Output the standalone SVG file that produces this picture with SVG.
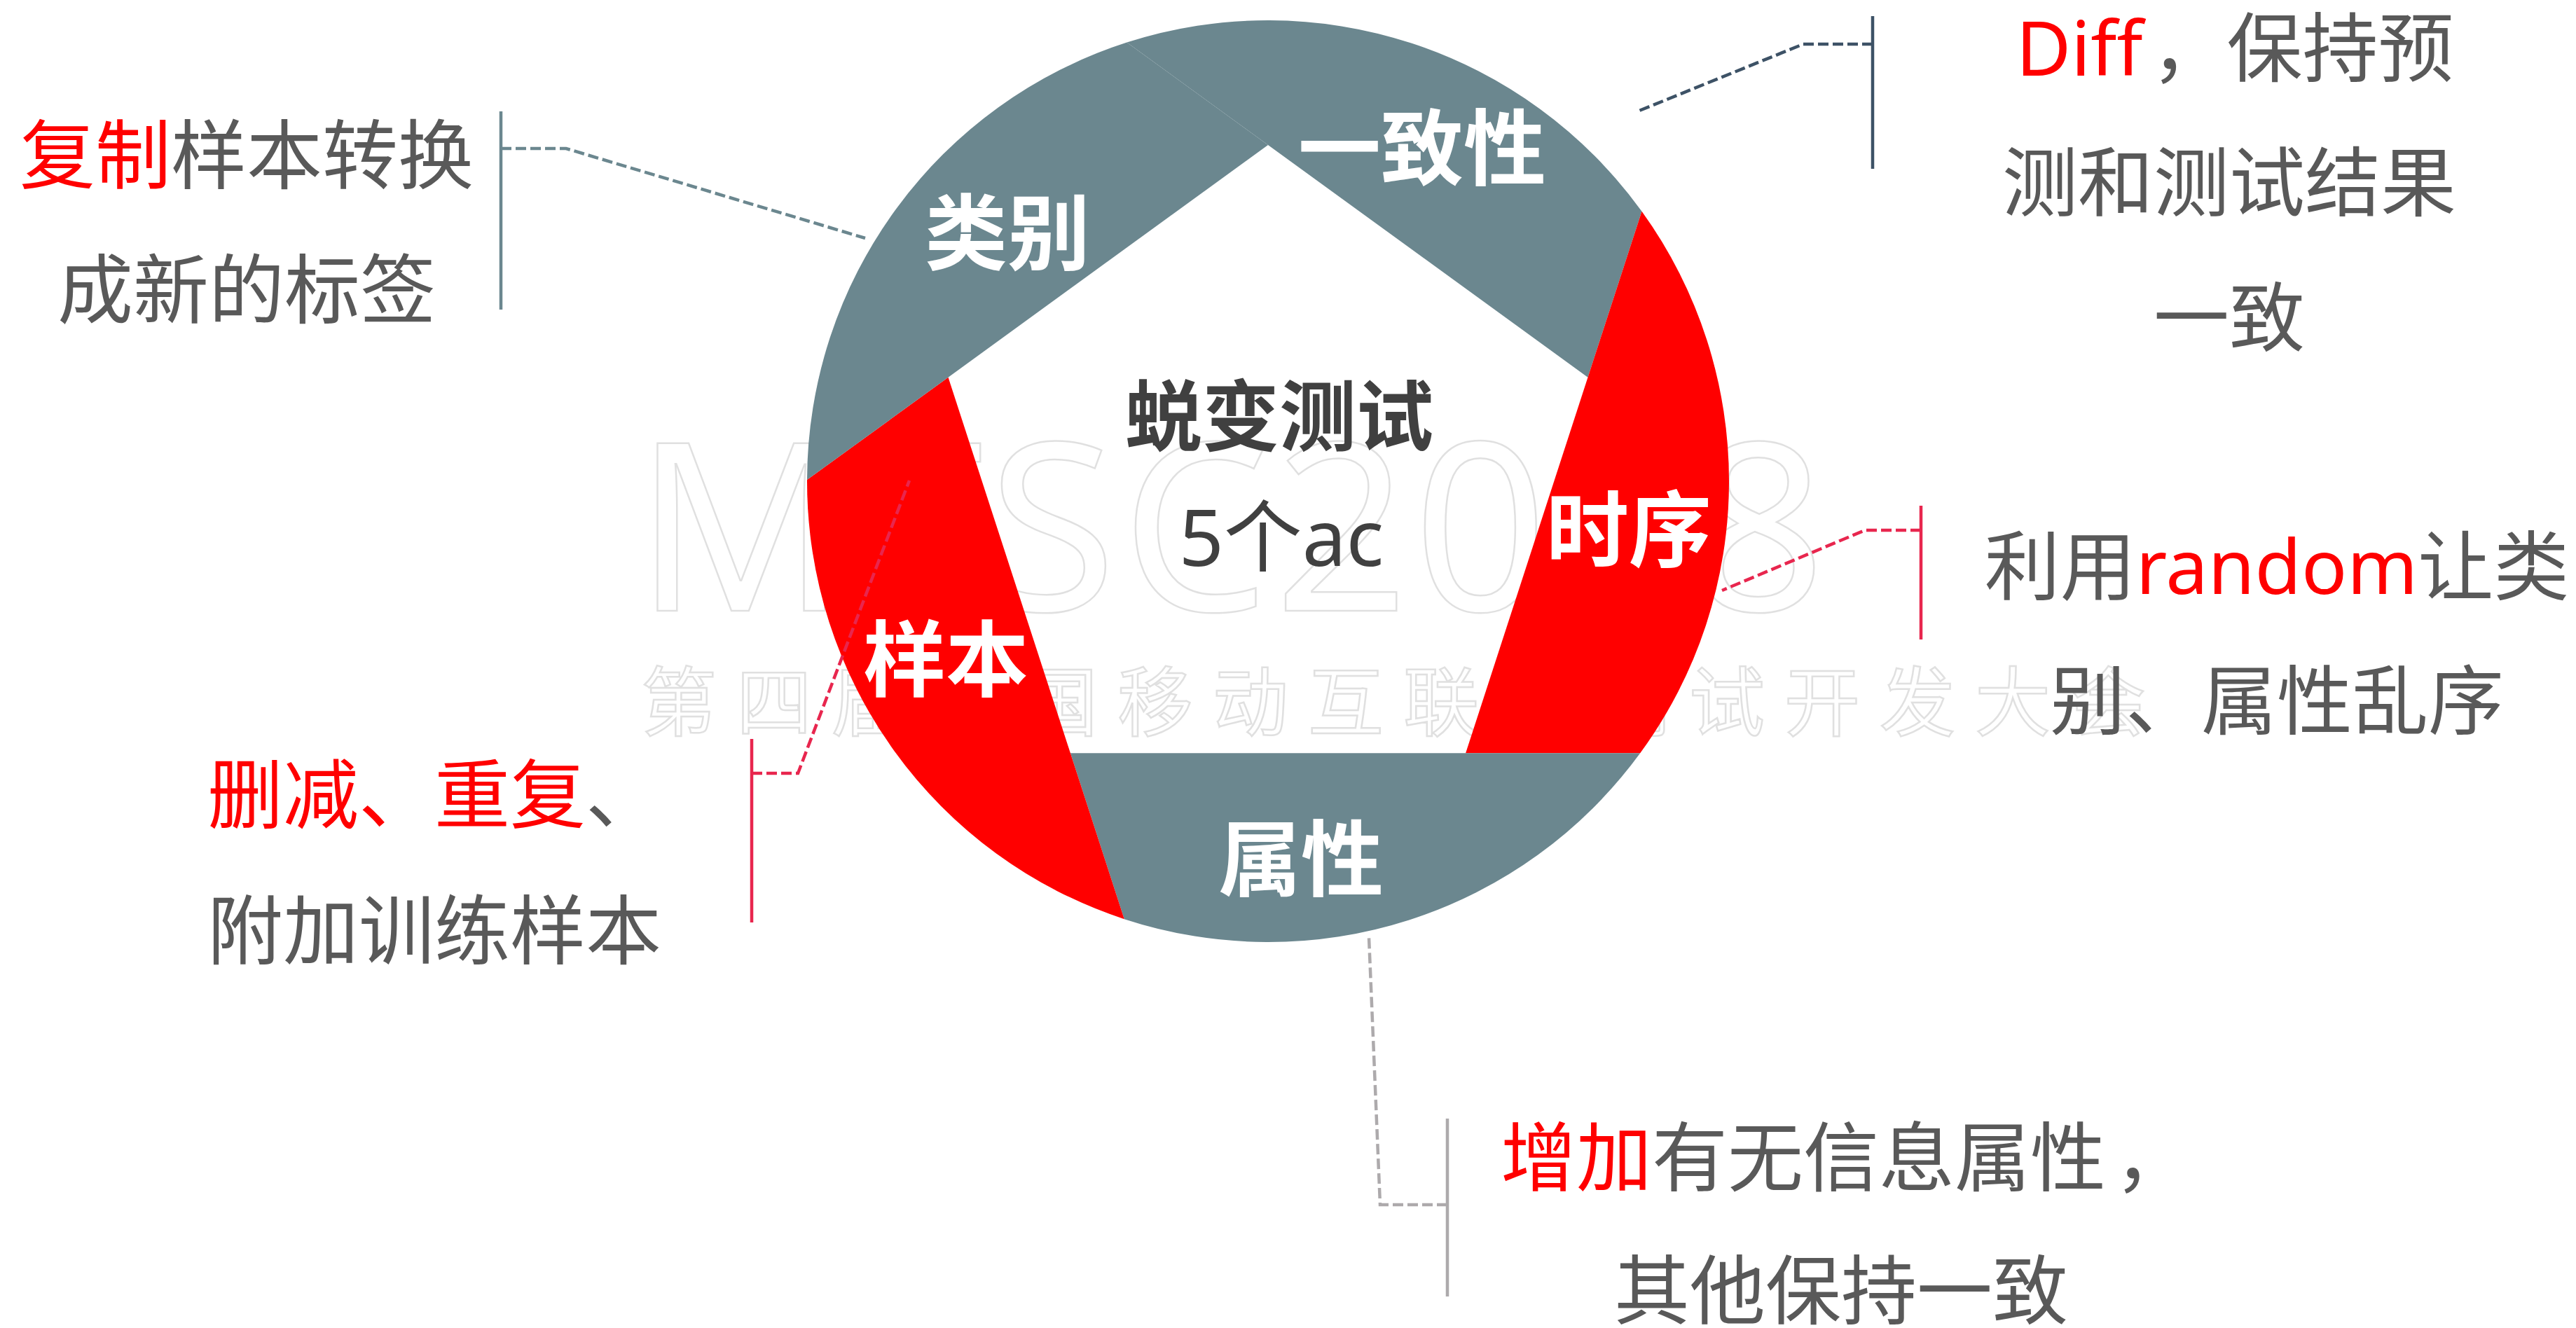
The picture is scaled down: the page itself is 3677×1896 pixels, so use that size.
<svg xmlns="http://www.w3.org/2000/svg" width="3677" height="1896" viewBox="0 0 3677 1896">
<style>
.t{font-family:"Noto Sans","Noto Sans CJK SC",sans-serif;font-size:108px;fill:#595959;text-anchor:middle}
.r{fill:#FF0000}
.lab{font-family:"Noto Sans CJK SC",sans-serif;font-size:118px;font-weight:700;fill:#FFFFFF;text-anchor:middle}
.gray{fill:#6B878F}
.red{fill:#FF0000}
.wm{font-family:"Noto Sans","Noto Sans CJK SC",sans-serif;fill:#FFFFFF;stroke:#E0E0E0;stroke-width:2.5}
.dash{fill:none;stroke-width:4.5;stroke-dasharray:15 6}
.bar{fill:none;stroke-width:4.5}
</style>
<rect width="3677" height="1896" fill="#FFFFFF"/>
<g id="watermark">
<text class="wm" x="906" y="872" font-size="335" textLength="1700" lengthAdjust="spacing">MTSC2018</text>
<text class="wm" x="915" y="1042" font-size="108" letter-spacing="28">第四届中国移动互联网测试开发大会</text>
</g>
<g id="seg-consistency">
<path class="gray" d="M1608.5,60.6 A658,658 0 0 1 2343.5,301.8 L2266.5,538.7 L1810,207 Z"/>
<text class="lab" x="2030" y="255">一致性</text>
</g>
<g id="seg-timing">
<path class="red" d="M2343.5,301.8 A658,658 0 0 1 2341.2,1075.3 L2092.1,1075.3 L2266.5,538.7 Z"/>
<text class="lab" x="2325" y="800">时序</text>
</g>
<g id="seg-attribute">
<path class="gray" d="M2341.2,1075.3 A658,658 0 0 1 1604.8,1312.2 L1527.9,1075.3 L2092.1,1075.3 Z"/>
<text class="lab" x="1857" y="1270">属性</text>
</g>
<g id="seg-sample">
<path class="red" d="M1604.8,1312.2 A658,658 0 0 1 1152,685.1 L1353.5,538.7 L1527.9,1075.3 Z"/>
<text class="lab" x="1350" y="985">样本</text>
</g>
<g id="seg-category">
<path class="gray" d="M1152,685.1 A658,658 0 0 1 1608.5,60.6 L1810,207 L1353.5,538.7 Z"/>
<text class="lab" x="1438" y="376">类别</text>
</g>
<g id="center">
<text x="1826" y="635" font-family="'Noto Sans CJK SC',sans-serif" font-size="110" font-weight="700" fill="#404040" text-anchor="middle">蜕变测试</text>
<text x="1829" y="808" font-family="'Noto Sans','Noto Sans CJK SC',sans-serif" font-size="112" fill="#404040" text-anchor="middle">5个ac</text>
</g>
<g id="connectors">
<polyline class="dash" stroke="#6B878F" points="715,212 808,212 1235,340"/>
<polyline class="dash" stroke="#3D5266" points="2673,63 2574,63 2335,160"/>
<polyline class="dash" stroke="#E8264E" points="2742,757 2662,757 2458,843"/>
<polyline class="dash" stroke="#E8264E" points="1073,1104 1139,1104 1298,686"/>
<polyline class="dash" stroke="#ADAAAC" points="2066,1720 1970,1720 1954,1338"/>
</g>
<g id="note-category">
<line class="bar" stroke="#6B878F" x1="715" y1="159" x2="715" y2="442"/>
<text class="t" x="352" y="261"><tspan class="r">复制</tspan>样本转换</text>
<text class="t" x="352" y="453">成新的标签</text>
</g>
<g id="note-consistency">
<line class="bar" stroke="#3D5266" x1="2673" y1="23" x2="2673" y2="241"/>
<text class="t" x="3190" y="108"><tspan class="r">Diff</tspan><tspan dx="12">，</tspan>保持预</text>
<text class="t" x="3182" y="300">测和测试结果</text>
<text class="t" x="3182" y="493">一致</text>
</g>
<g id="note-timing">
<line class="bar" stroke="#E8264E" x1="2742" y1="722" x2="2742" y2="913"/>
<text class="t" x="3250" y="848">利用<tspan class="r">random</tspan>让类</text>
<text class="t" x="3250" y="1040">别、属性乱序</text>
</g>
<g id="note-sample">
<line class="bar" stroke="#E8264E" x1="1073" y1="1055" x2="1073" y2="1317"/>
<text class="t" x="620" y="1174"><tspan class="r">删减、重复</tspan>、</text>
<text class="t" x="620" y="1368">附加训练样本</text>
</g>
<g id="note-attribute">
<line class="bar" stroke="#ADAAAC" x1="2066" y1="1597" x2="2066" y2="1851"/>
<text class="t" x="2634" y="1692"><tspan class="r">增加</tspan>有无信息属性<tspan dx="12">，</tspan></text>
<text class="t" x="2628" y="1882">其他保持一致</text>
</g>
</svg>
